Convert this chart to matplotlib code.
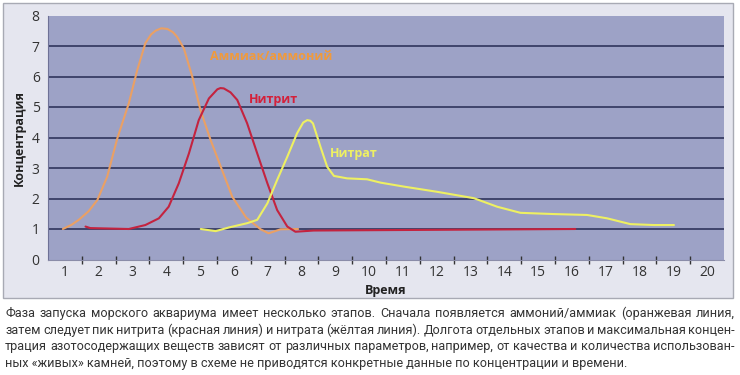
import numpy as np
import matplotlib
matplotlib.use('Agg')
import matplotlib.pyplot as plt
from matplotlib.patches import Rectangle

# данные
ammonia_x = [0.94, 1.2, 1.41, 1.7, 1.96, 2.25, 2.55, 2.89, 3.14, 3.38, 3.55, 3.68, 3.85, 4.03,
             4.2, 4.32, 4.52, 4.77, 5.01, 5.31, 5.65, 5.95, 6.36, 6.79, 7.03, 7.38, 7.9]
ammonia_y = [1.0, 1.14, 1.30, 1.58, 1.95, 2.71, 3.97, 5.12, 6.21, 7.09, 7.38, 7.50, 7.58, 7.56,
             7.45, 7.30, 6.92, 5.99, 4.90, 3.92, 2.93, 2.06, 1.38, 0.99, 0.86, 0.99, 1.0]

nitrite_x = [1.61, 1.75, 2.89, 3.38, 3.78, 4.07, 4.37, 4.67, 4.96, 5.26, 5.51, 5.6, 5.70, 5.90,
             6.10, 6.39, 6.69, 6.99, 7.28, 7.58, 7.82, 8.36, 16.1]
nitrite_y = [1.08, 1.03, 1.0, 1.13, 1.35, 1.73, 2.50, 3.48, 4.57, 5.28, 5.58, 5.62, 5.61, 5.48,
             5.23, 4.47, 3.48, 2.50, 1.62, 1.08, 0.91, 0.95, 1.0]

nitrate_x = [5.02, 5.46, 5.85, 6.39, 6.69, 6.99, 7.28, 7.58, 7.87, 8.05, 8.17, 8.26, 8.34,
             8.56, 8.76, 8.96, 9.35, 9.94, 10.34, 11.03, 12.01, 13.10, 13.79, 14.48,
             15.46, 16.45, 17.04, 17.73, 18.42, 19.02]
nitrate_y = [1.0, 0.93, 1.05, 1.19, 1.30, 1.84, 2.61, 3.37, 4.14, 4.49, 4.57, 4.55, 4.46,
             3.70, 3.04, 2.74, 2.66, 2.63, 2.52, 2.39, 2.22, 2.01, 1.73, 1.53,
             1.49, 1.46, 1.35, 1.16, 1.13, 1.13]

x_ticks = list(range(1, 21))
y_ticks = list(range(0, 9))

series_names = ['Аммиак/аммоний', 'Нитрит', 'Нитрат']
series_colors = ['#eaa064', '#c4233f', '#eef062']
label_colors = ['#f09a3c', '#d4203a', '#eef062']
label_pos = [(5.3, 6.65), (6.45, 5.23), (8.85, 3.49)]

caption_lines = [
    'Фаза запуска морского аквариума имеет несколько этапов. Сначала появляется аммоний/аммиак (оранжевая линия,',
    'затем следует пик нитрита (красная линия) и нитрата (жёлтая линия). Долгота отдельных этапов и максимальная концен-',
    'трация азотосодержащих веществ зависят от различных параметров, например, от качества и количества использован-',
    'ных «живых» камней, поэтому в схеме не приводятся конкретные данные по концентрации и времени.',
]

plt.rcParams['font.family'] = ['Open Sans', 'DejaVu Sans']

W, H = 740, 375
fig = plt.figure(figsize=(W / 100, H / 100), dpi=100)
fig.patch.set_facecolor('white')

# светлая подложка вокруг графика
fig.patches.append(Rectangle((3 / W, 1 - 298 / H), 730 / W, 295 / H, transform=fig.transFigure,
                             facecolor='#e5e6ef', edgecolor='#a8aab4', linewidth=1.0, zorder=-5))

ax = fig.add_axes([48 / W, 1 - 259.5 / H, 676 / W, 244 / H])
ax.set_zorder(2)
ax.set_facecolor('#9da2c6')
ax.set_xlim(0.5, 20.5)
ax.set_ylim(0, 8)

for yv in y_ticks[1:-1]:
    ax.axhline(yv, color='#262a52', linewidth=1.1, zorder=1)

for xs, ys, c in zip([ammonia_x, nitrite_x, nitrate_x], [ammonia_y, nitrite_y, nitrate_y], series_colors):
    ax.plot(xs, ys, color=c, linewidth=1.5, solid_joinstyle='round', solid_capstyle='round', zorder=3)

for name, c, (lx, ly) in zip(series_names, label_colors, label_pos):
    ax.text(lx, ly, name, color=c, fontsize=9, fontweight='bold', va='center', ha='left', zorder=4)

ax.set_xticks(x_ticks)
ax.set_xticks([x + 0.5 for x in x_ticks[:-1]], minor=True)
ax.set_yticks(y_ticks)
ax.tick_params(axis='x', which='major', length=0, pad=4, labelsize=10, labelcolor='#333333')
ax.tick_params(axis='x', which='minor', length=6, direction='inout', width=1.0, color='#333333')
ax.tick_params(axis='y', length=0, pad=6, labelsize=10, labelcolor='#333333')

for side in ['top', 'right']:
    ax.spines[side].set_visible(False)
ax.spines['left'].set_color('#6e7196')
ax.spines['bottom'].set_color('#8a8ca8')

ax.set_ylabel('Концентрация', fontsize=9, fontweight='bold', color='#222222', labelpad=4)
ax.set_xlabel('Время', fontsize=9, fontweight='bold', color='#222222', labelpad=3)

# подпись под графиком, по ширине (кроме последней строки)
renderer = fig.canvas.get_renderer()
cap_kw = dict(fontsize=9.1, color='#333333', family=['Roboto', 'DejaVu Sans'],
              va='baseline', ha='left')
x0, x1 = 5 / W, 735 / W
for i, line in enumerate(caption_lines):
    y = 1 - (317 + i * 16.7) / H
    if i == len(caption_lines) - 1:
        fig.text(x0, y, line, **cap_kw)
        continue
    words = line.split(' ')
    objs = [fig.text(0, y, w, **cap_kw) for w in words]
    widths = [o.get_window_extent(renderer).width / fig.bbox.width for o in objs]
    gap = (x1 - x0 - sum(widths)) / (len(words) - 1)
    x = x0
    for o, w in zip(objs, widths):
        o.set_x(x)
        x += w + gap

fig.savefig('out.png', dpi=100)
